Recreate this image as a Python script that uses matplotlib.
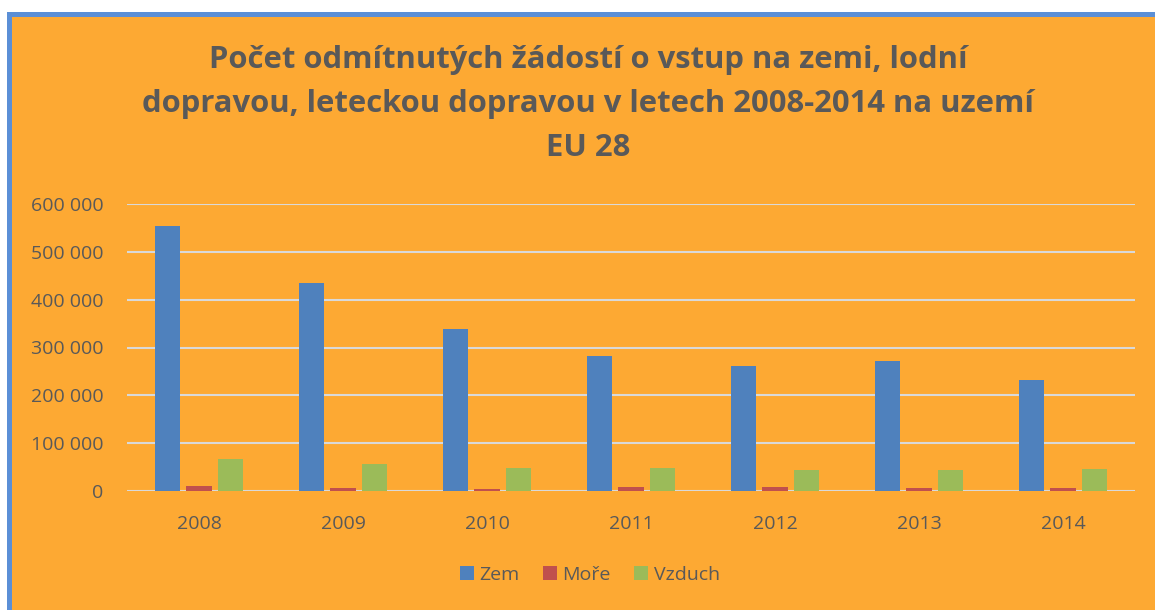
import numpy as np
import matplotlib.pyplot as plt
from matplotlib.patches import Rectangle
from matplotlib.ticker import FuncFormatter

plt.rcParams['font.family'] = ['Open Sans', 'DejaVu Sans']

years = ['2008', '2009', '2010', '2011', '2012', '2013', '2014']
zem = [554000, 434000, 338000, 282000, 261000, 272000, 232000]
more = [10500, 7000, 5000, 9000, 9000, 6500, 7000]
vzduch = [67500, 56500, 49000, 48000, 44000, 44000, 45000]

series = [('Zem', zem, '#4F81BD'), ('Moře', more, '#C0504D'), ('Vzduch', vzduch, '#9BBB59')]
title = ("Počet odmítnutých žádostí o vstup na zemi, lodní\n"
         "dopravou, leteckou dopravou v letech 2008-2014 na uzemí\n"
         "EU 28")

bg = '#FDA933'
txt = '#595959'

fig = plt.figure(figsize=(11.55, 6.10), dpi=100)
fig.patch.set_facecolor('white')
# orange chart area with blue frame (only top and left edge visible)
fig.patches.append(Rectangle((8.5 / 1155, -0.1), 1.2, (610 - 14) / 610 + 0.1,
                             transform=fig.transFigure, facecolor=bg,
                             edgecolor='#5B8FD6', linewidth=3.6, zorder=-10))

ax = fig.add_axes([127 / 1155, (610 - 491) / 610, (1135 - 127) / 1155, 287 / 610])
ax.set_facecolor('none')
ax.set_zorder(1)

x = np.arange(len(years))
w = 0.174
step = 0.222
for i, (name, vals, col) in enumerate(series):
    ax.bar(x + (i - 1) * step, vals, width=w, color=col, label=name, zorder=3)

ax.set_xlim(-0.5, len(years) - 0.5)
ax.set_ylim(0, 600000)
ax.set_yticks(range(0, 600001, 100000))
ax.yaxis.set_major_formatter(FuncFormatter(lambda v, p: f'{int(v):,}'.replace(',', ' ')))
ax.set_xticks(x)
ax.set_xticklabels(years)
ax.grid(axis='y', color='#D9D9D9', linewidth=1.5, zorder=0)
ax.tick_params(length=0, labelsize=14, colors=txt)
ax.tick_params(axis='x', pad=17)
ax.tick_params(axis='y', pad=17)
for s in ax.spines.values():
    s.set_visible(False)

fig.text(588 / 1155, (610 - 104) / 610, title, ha='center', va='center',
         fontsize=22.3, fontweight='bold', color=txt, linespacing=1.62)

leg = fig.legend(loc='center', bbox_to_anchor=(590 / 1155, 35 / 610), ncol=3,
                 frameon=False, fontsize=14, handlelength=0.7, handleheight=0.7,
                 handletextpad=0.3, columnspacing=1.2)
for t in leg.get_texts():
    t.set_color(txt)

plt.savefig('out.png', dpi=100, facecolor=fig.get_facecolor())
